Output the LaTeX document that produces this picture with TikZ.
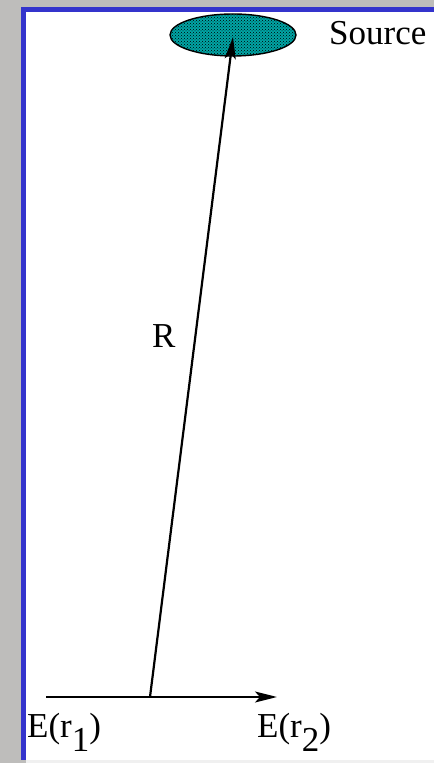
\documentclass[tikz,border=0pt]{standalone}
\usepackage{fontspec}
\setmainfont{Liberation Serif}
\usetikzlibrary{shapes.geometric,arrows.meta,patterns}
\definecolor{bggray}{RGB}{190,189,187}
\definecolor{frameblue}{RGB}{52,52,204}
\definecolor{srcteal}{RGB}{0,165,165}
\begin{document}
\begin{tikzpicture}[x=1pt,y=1pt,
  lbl/.style={inner sep=0pt, anchor=base west, font=\fontsize{35}{40}\selectfont},
  arr/.style={line width=2.2pt, -{Stealth[length=22pt,width=11pt,inset=5pt]}},
  srcshape/.style={ellipse, draw=black, line width=1.4pt, fill=srcteal,
     postaction={pattern=crosshatch dots, pattern color=black},
     minimum width=126pt, minimum height=42pt, inner sep=0pt}]
\useasboundingbox (0,0) rectangle (434,763);
\fill[bggray] (0,0) rectangle (434,763);
\fill[frameblue] (21,3) rectangle (434,756);
\fill[white] (26,3) rectangle (434,751);
\fill[black!6] (26,0) rectangle (434,3);
\node[srcshape] (src) at (233,728) {};
\node[lbl] (srclbl) at (329,718) {Source};
\node[lbl] (rlbl) at (152,415) {R};
\node[lbl] (e1) at (27,25) {E(r\raisebox{-0.4em}{1})};
\node[lbl] (e2) at (257,25) {E(r\raisebox{-0.4em}{2})};
\coordinate (left) at (46,66);
\coordinate (right) at (277,66);
\coordinate (foot) at (150,66);
\coordinate (tip) at (233,726);
\draw[arr] (left) -- (right);
\draw[arr] (foot) -- (tip);
\end{tikzpicture}
\end{document}
